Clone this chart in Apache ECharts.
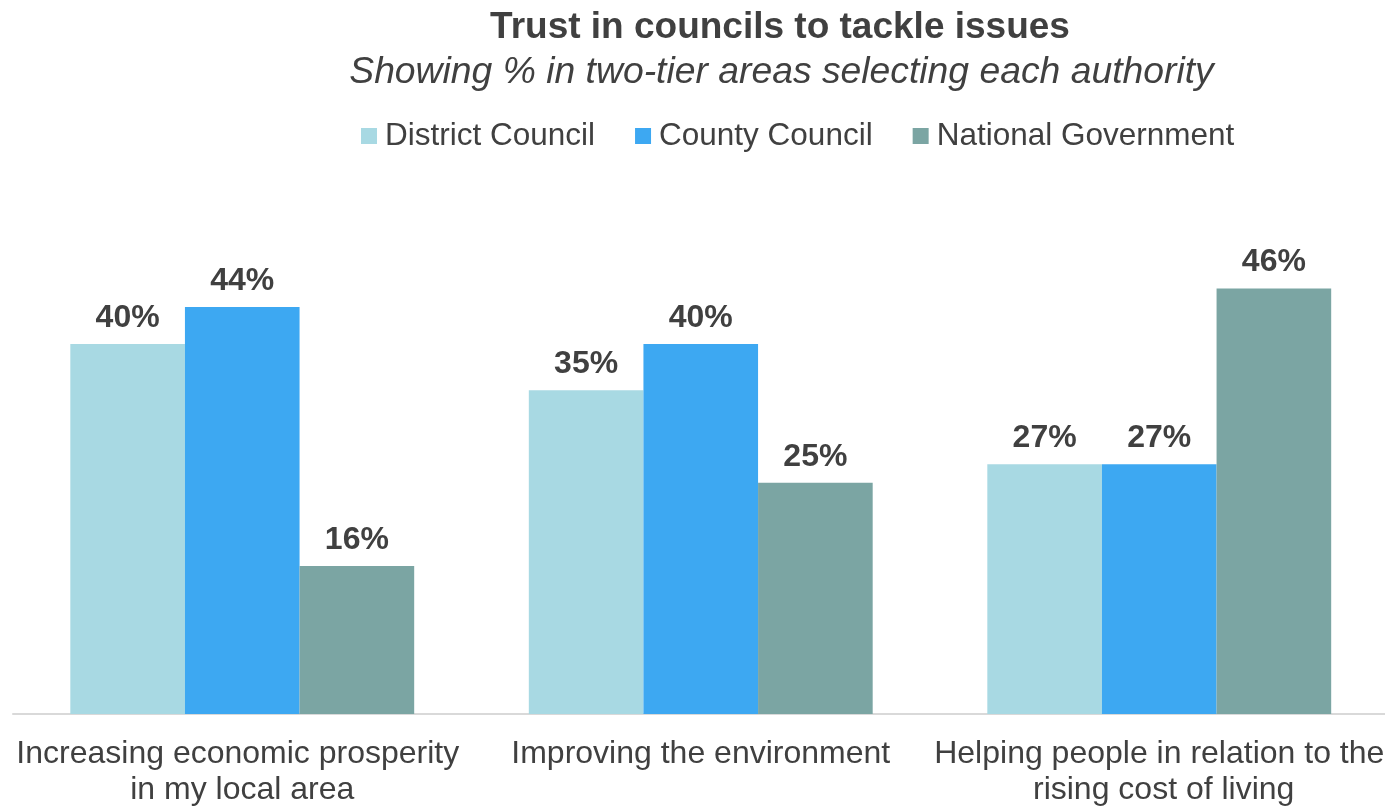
<!DOCTYPE html>
<html>
<head>
<meta charset="utf-8">
<script src="https://cdn.jsdelivr.net/npm/echarts@6/dist/echarts.min.js"></script>
<style>
html,body{margin:0;padding:0;background:#fff;}
#chart{width:1385px;height:806px;}
</style>
</head>
<body>
<div id="chart"></div>
<script>
const categories = [
  'Increasing economic prosperity in my local area',
  'Improving the environment',
  'Helping people in relation to the rising cost of living'
];
const seriesNames = ['District Council', 'County Council', 'National Government'];
const districtCouncil = [40, 35, 27];
const countyCouncil = [44, 40, 27];
const nationalGovernment = [16, 25, 46];
const seriesColors = ['#A8D9E3', '#3DA8F2', '#7BA5A3'];

const FONT = '"Liberation Sans", Arial, sans-serif';
const TEXT = '#404040';

const chart = echarts.init(document.getElementById('chart'), null, {renderer: 'canvas'});
const values = [districtCouncil, countyCouncil, nationalGovernment];

chart.setOption({
  animation: false,
  backgroundColor: '#ffffff',
  title: [
    {
      text: 'Trust in councils to tackle issues',
      left: 775, top: 4, textAlign: 'center',
      textStyle: {fontFamily: FONT, fontSize: 37, fontWeight: 'bold', color: TEXT}
    },
    {
      text: 'Showing % in two-tier areas selecting each authority',
      left: 776.5, top: 49, textAlign: 'center',
      textStyle: {fontFamily: FONT, fontSize: 37.3, fontStyle: 'italic', fontWeight: 'normal', color: TEXT}
    }
  ],
  legend: {
    data: seriesNames,
    left: 356, top: 115,
    itemWidth: 16, itemHeight: 16, itemGap: 40,
    icon: 'rect',
    textStyle: {fontFamily: FONT, fontSize: 31.5, color: TEXT, padding: [0, 0, 0, 3]}
  },
  grid: {
    left: 13, width: 1375.5, top: 251.5, height: 462.5,
    containLabel: false, outerBoundsMode: 'none'
  },
  xAxis: {
    type: 'category',
    data: categories,
    axisLine: {show: true, lineStyle: {color: '#D9D9D9', width: 2}},
    axisTick: {show: false},
    axisLabel: {
      interval: 0, margin: 22, fontFamily: FONT, fontSize: 32, color: TEXT,
      lineHeight: 36, width: 458, overflow: 'break'
    }
  },
  yAxis: {
    type: 'value', min: 0, max: 50, interval: 10, show: false,
    splitLine: {show: false}
  },
  series: seriesNames.map((name, i) => ({
    name: name,
    type: 'bar',
    data: values[i],
    barGap: '0%',
    barCategoryGap: '25%',
    itemStyle: {color: seriesColors[i]},
    label: {
      show: true, position: 'top', distance: 10,
      formatter: '{c}%',
      fontFamily: FONT, fontSize: 32, fontWeight: 'bold', color: TEXT
    }
  }))
});
</script>
</body>
</html>
